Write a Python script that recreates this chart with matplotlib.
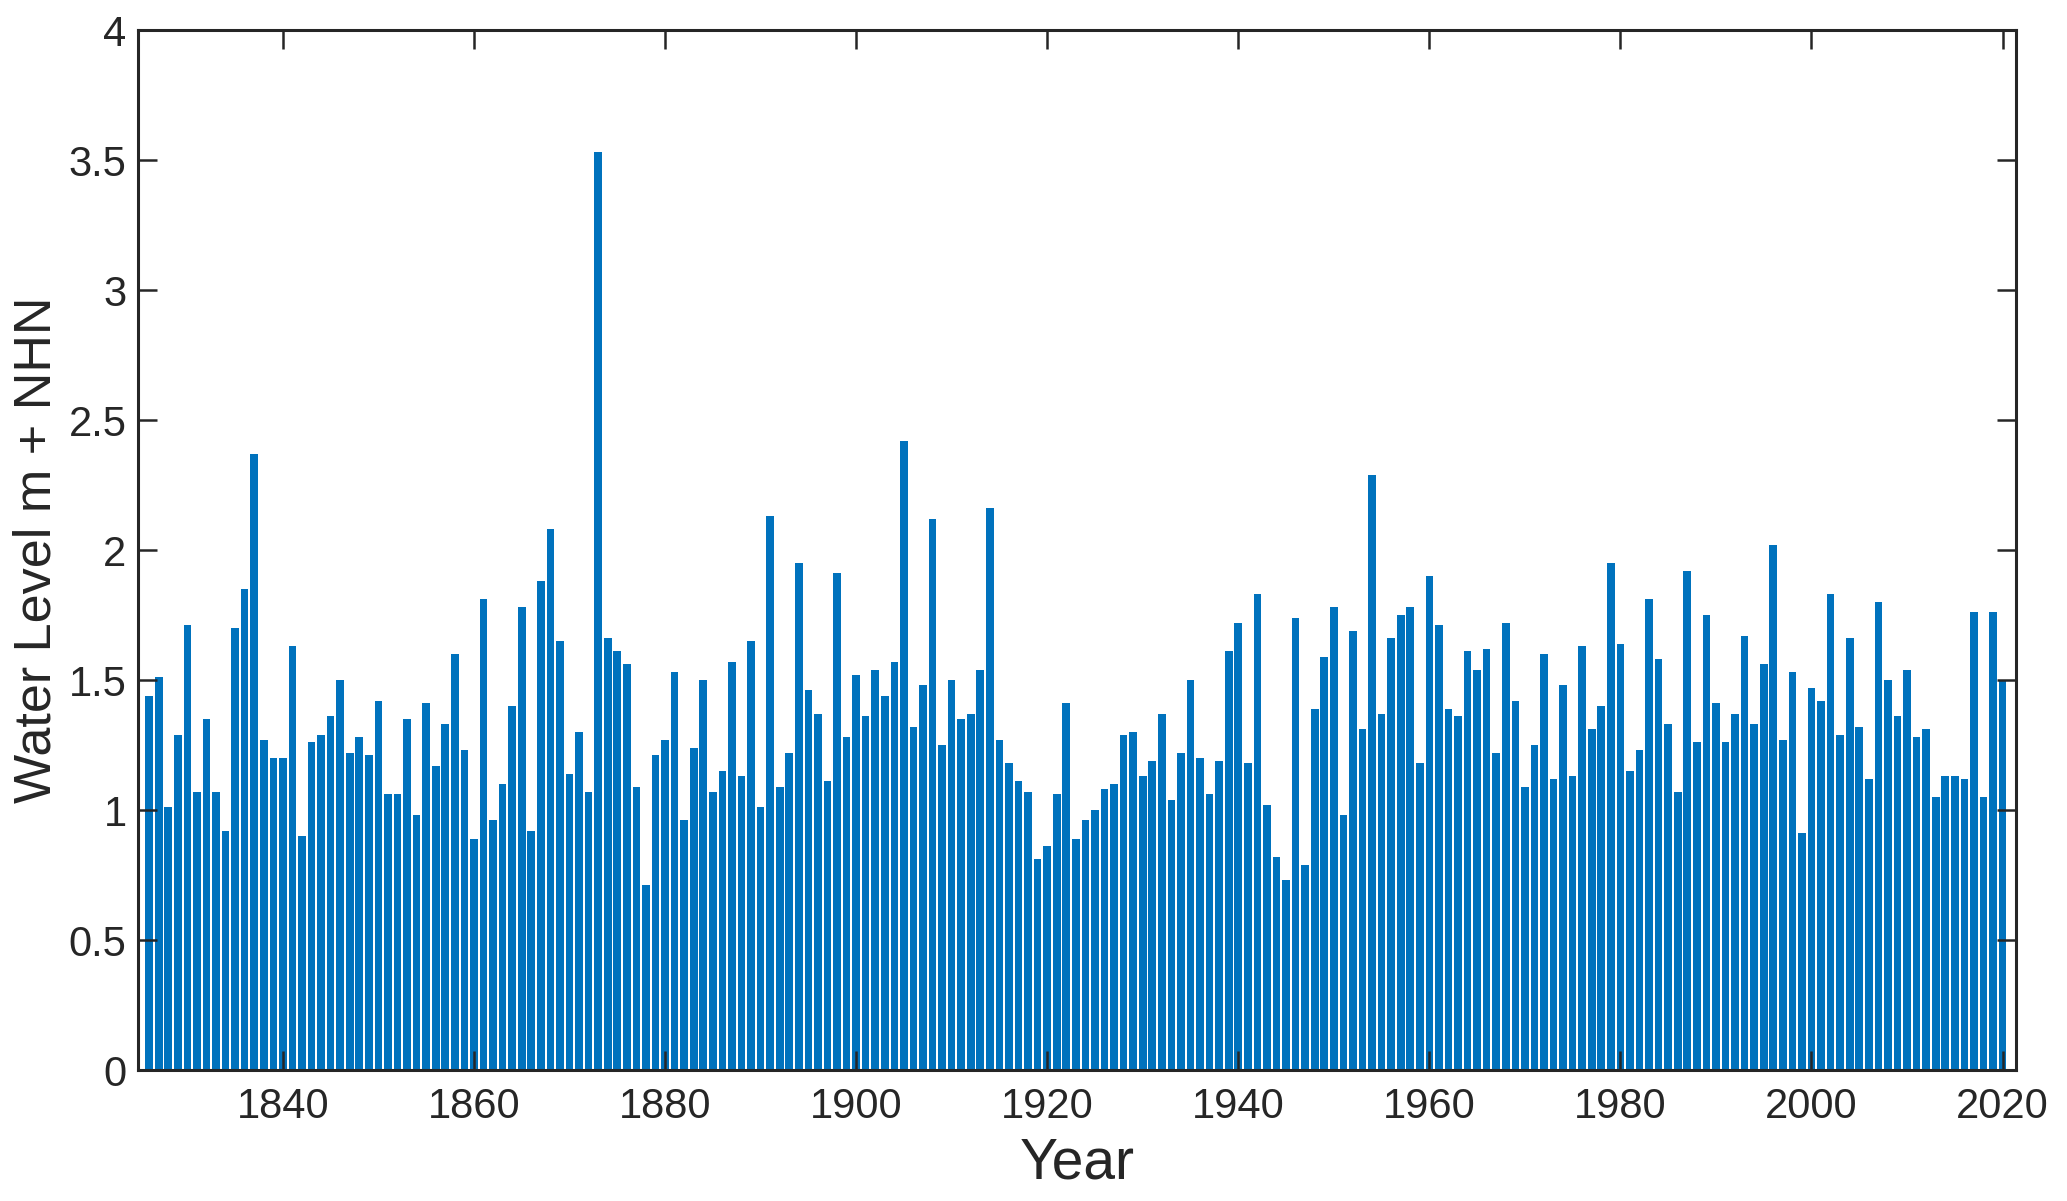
import numpy as np
import matplotlib
matplotlib.use("Agg")
import matplotlib.pyplot as plt
from matplotlib.ticker import FuncFormatter

# annual maximum water level, 1826-2020 (m + NHN)
years = np.arange(1826, 2021)
level = [
    # 1826-1852
    1.44, 1.51, 1.01, 1.29, 1.71, 1.07, 1.35, 1.07, 0.92, 1.70,
    1.85, 2.37, 1.27, 1.20, 1.20, 1.63, 0.90, 1.26, 1.29, 1.36,
    1.50, 1.22, 1.28, 1.21, 1.42, 1.06, 1.06,
    # 1853-1880
    1.35, 0.98, 1.41, 1.17, 1.33, 1.60, 1.23, 0.89, 1.81, 0.96,
    1.10, 1.40, 1.78, 0.92, 1.88, 2.08, 1.65, 1.14, 1.30, 1.07,
    3.53, 1.66, 1.61, 1.56, 1.09, 0.71, 1.21, 1.27,
    # 1881-1907
    1.53, 0.96, 1.24, 1.50, 1.07, 1.15, 1.57, 1.13, 1.65, 1.01,
    2.13, 1.09, 1.22, 1.95, 1.46, 1.37, 1.11, 1.91, 1.28, 1.52,
    1.36, 1.54, 1.44, 1.57, 2.42, 1.32, 1.48,
    # 1908-1934
    2.12, 1.25, 1.50, 1.35, 1.37, 1.54, 2.16, 1.27, 1.18, 1.11,
    1.07, 0.81, 0.86, 1.06, 1.41, 0.89, 0.96, 1.00, 1.08, 1.10,
    1.29, 1.30, 1.13, 1.19, 1.37, 1.04, 1.22,
    # 1935-1961
    1.50, 1.20, 1.06, 1.19, 1.61, 1.72, 1.18, 1.83, 1.02, 0.82,
    0.73, 1.74, 0.79, 1.39, 1.59, 1.78, 0.98, 1.69, 1.31, 2.29,
    1.37, 1.66, 1.75, 1.78, 1.18, 1.90, 1.71,
    # 1962-1989
    1.39, 1.36, 1.61, 1.54, 1.62, 1.22, 1.72, 1.42, 1.09, 1.25,
    1.60, 1.12, 1.48, 1.13, 1.63, 1.31, 1.40, 1.95, 1.64, 1.15,
    1.23, 1.81, 1.58, 1.33, 1.07, 1.92, 1.26, 1.75,
    # 1990-2020
    1.41, 1.26, 1.37, 1.67, 1.33, 1.56, 2.02, 1.27, 1.53, 0.91,
    1.47, 1.42, 1.83, 1.29, 1.66, 1.32, 1.12, 1.80, 1.50, 1.36,
    1.54, 1.28, 1.31, 1.05, 1.13, 1.13, 1.12, 1.76, 1.05, 1.76,
    1.50,
]

plt.rcParams['font.family'] = ['Liberation Sans', 'DejaVu Sans']
axcol = "#262626"

fig = plt.figure(figsize=(20.67, 12.01), dpi=100)
ax = fig.add_axes([0.0666, 0.109, 0.9087, 0.866])

ax.bar(years, level, width=0.8, color="#0072BD", edgecolor="none")

ax.set_xlim(1824.8, 2021.4)
ax.set_ylim(0, 4)
ax.set_xticks(np.arange(1840, 2021, 20))
ax.set_yticks(np.arange(0, 4.01, 0.5))
ax.yaxis.set_major_formatter(FuncFormatter(lambda v, p: "%g" % v))

for s in ax.spines.values():
    s.set_linewidth(2.2)
    s.set_color(axcol)
ax.tick_params(direction="in", length=14, width=1.8, colors=axcol,
               labelsize=30, top=True, right=True)
ax.tick_params(axis="x", pad=12)
ax.tick_params(axis="y", pad=8)

ax.set_xlabel("Year", fontsize=41, color=axcol, labelpad=7)
ax.set_ylabel("Water Level m + NHN", fontsize=37.5, color=axcol, labelpad=5)

fig.savefig("out.png", dpi=100)
